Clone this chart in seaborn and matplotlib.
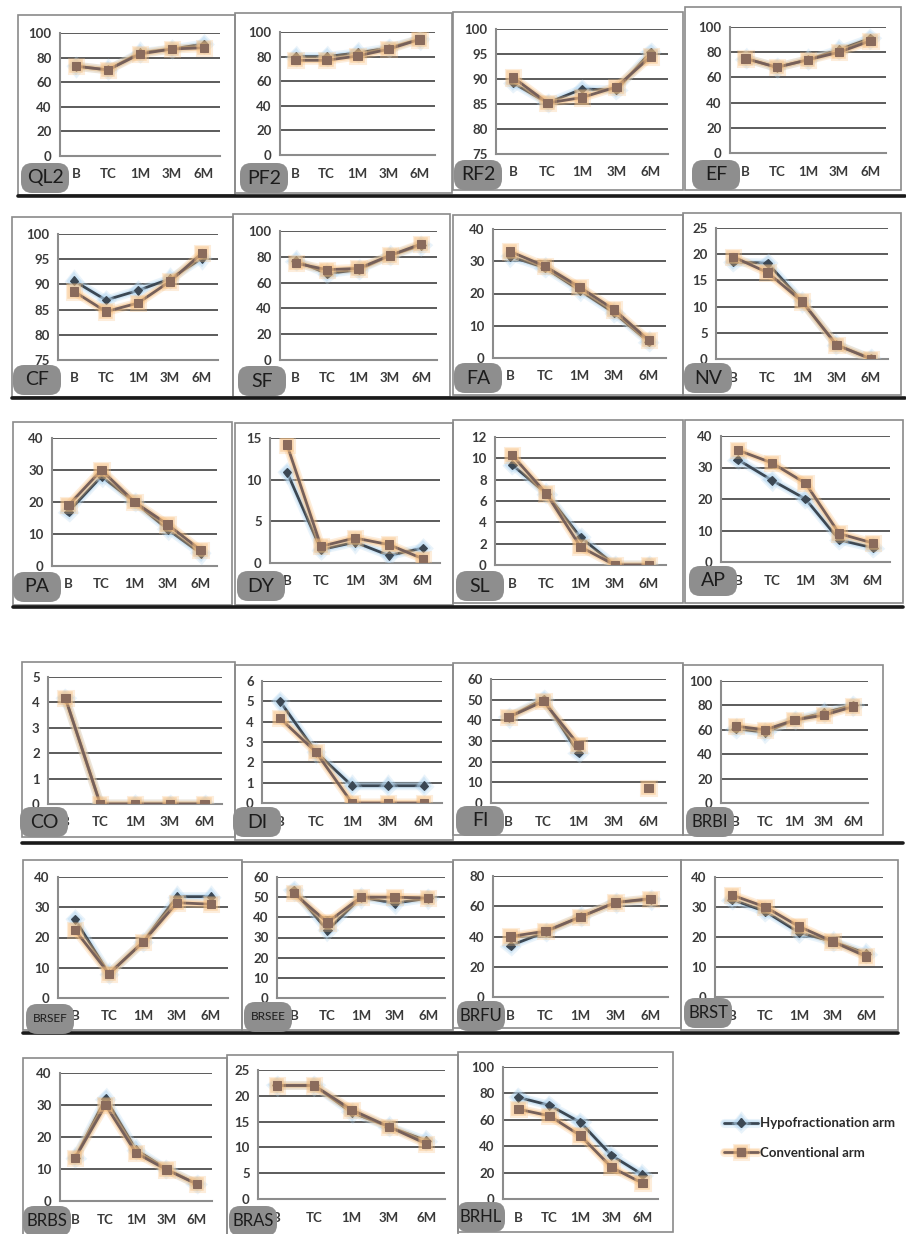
import numpy as np
import pandas as pd
import matplotlib
matplotlib.use("Agg")
import matplotlib.pyplot as plt
import matplotlib.patheffects as pe
from matplotlib.patches import Rectangle, FancyBboxPatch
from matplotlib.lines import Line2D
import seaborn as sns

# ---------------- data ----------------
categories = ["B", "TC", "1M", "3M", "6M"]
arms = ["Hypofractionation arm", "Conventional arm"]

QL2_hypo = [73, 70, 84, 87, 91]
QL2_conv = [73, 70, 83, 87, 88]
QL2_yticks = [0, 20, 40, 60, 80, 100]

PF2_hypo = [80, 80, 83, 87, 94]
PF2_conv = [77, 77, 80.5, 86, 94]
PF2_yticks = [0, 20, 40, 60, 80, 100]

RF2_hypo = [89.2, 85.2, 88.0, 87.8, 95.4]
RF2_conv = [90.3, 85.2, 86.3, 88.4, 94.5]
RF2_yticks = [75, 80, 85, 90, 95, 100]

EF_hypo = [75, 68, 74, 82, 91]
EF_conv = [75, 68, 74, 80, 89]
EF_yticks = [0, 20, 40, 60, 80, 100]

CF_hypo = [90.7, 86.9, 88.8, 91.1, 95.2]
CF_conv = [88.6, 84.6, 86.3, 90.6, 96.2]
CF_yticks = [75, 80, 85, 90, 95, 100]

SF_hypo = [77, 67, 70, 81, 89]
SF_conv = [75, 70, 71, 81, 90]
SF_yticks = [0, 20, 40, 60, 80, 100]

FA_hypo = [31.5, 28, 21, 14, 5]
FA_conv = [33, 28.5, 22, 15, 5.5]
FA_yticks = [0, 10, 20, 30, 40]

NV_hypo = [18.5, 18.3, 11, 2.7, 0.1]
NV_conv = [19.5, 16.5, 11, 2.7, 0]
NV_yticks = [0, 5, 10, 15, 20, 25]

PA_hypo = [17, 28, 20, 11.5, 4]
PA_conv = [19, 30, 20, 13, 5]
PA_yticks = [0, 10, 20, 30, 40]

DY_hypo = [10.9, 1.6, 2.5, 0.9, 1.8]
DY_conv = [14.2, 2.0, 3.0, 2.2, 0.5]
DY_yticks = [0, 5, 10, 15]

SL_hypo = [9.4, 6.7, 2.6, 0, 0]
SL_conv = [10.3, 6.7, 1.7, 0, 0]
SL_yticks = [0, 2, 4, 6, 8, 10, 12]

AP_hypo = [32.5, 26, 20, 7, 4.5]
AP_conv = [35.5, 31.5, 25, 9, 6]
AP_yticks = [0, 10, 20, 30, 40]

CO_hypo = [4.17, 0, 0, 0, 0]
CO_conv = [4.17, 0, 0, 0, 0]
CO_yticks = [0, 1, 2, 3, 4, 5]

DI_hypo = [5.0, 2.5, 0.85, 0.85, 0.85]
DI_conv = [4.17, 2.5, 0, 0, 0]
DI_yticks = [0, 1, 2, 3, 4, 5, 6]

FI_hypo = [41.5, 50.3, 24.2, np.nan, np.nan]
FI_conv = [41.5, 49.2, 28.2, np.nan, 7.3]
FI_yticks = [0, 10, 20, 30, 40, 50, 60]

BRBI_hypo = [61, 58, 68, 74, 80]
BRBI_conv = [63, 60, 68, 72, 79]
BRBI_yticks = [0, 20, 40, 60, 80, 100]

BRSEF_hypo = [26, 8, 18.5, 33.5, 33.5]
BRSEF_conv = [22.5, 8, 18.5, 31.5, 31]
BRSEF_yticks = [0, 10, 20, 30, 40]

BRSEE_hypo = [53.4, 33.5, 50, 47, 49.5]
BRSEE_conv = [52, 37.5, 50, 50, 49.5]
BRSEE_yticks = [0, 10, 20, 30, 40, 50, 60]

BRFU_hypo = [34, 43, 53, 62.5, 64.5]
BRFU_conv = [40, 43.5, 53, 62.5, 65]
BRFU_yticks = [0, 20, 40, 60, 80]

BRST_hypo = [32.5, 28.5, 21.5, 18.5, 14.5]
BRST_conv = [34, 30, 23.5, 18.5, 13.5]
BRST_yticks = [0, 10, 20, 30, 40]

BRBS_hypo = [13.5, 32, 16, 10, 5.3]
BRBS_conv = [13.5, 30, 15, 9.8, 5.3]
BRBS_yticks = [0, 10, 20, 30, 40]

BRAS_hypo = [22, 22, 16.8, 14, 11.3]
BRAS_conv = [22, 22, 17.3, 14, 10.7]
BRAS_yticks = [0, 5, 10, 15, 20, 25]

BRHL_hypo = [77, 71, 58, 33, 18.5]
BRHL_conv = [68, 63, 48, 24, 12]
BRHL_yticks = [0, 20, 40, 60, 80, 100]

panels = [
    ("QL2", QL2_hypo, QL2_conv, QL2_yticks),
    ("PF2", PF2_hypo, PF2_conv, PF2_yticks),
    ("RF2", RF2_hypo, RF2_conv, RF2_yticks),
    ("EF", EF_hypo, EF_conv, EF_yticks),
    ("CF", CF_hypo, CF_conv, CF_yticks),
    ("SF", SF_hypo, SF_conv, SF_yticks),
    ("FA", FA_hypo, FA_conv, FA_yticks),
    ("NV", NV_hypo, NV_conv, NV_yticks),
    ("PA", PA_hypo, PA_conv, PA_yticks),
    ("DY", DY_hypo, DY_conv, DY_yticks),
    ("SL", SL_hypo, SL_conv, SL_yticks),
    ("AP", AP_hypo, AP_conv, AP_yticks),
    ("CO", CO_hypo, CO_conv, CO_yticks),
    ("DI", DI_hypo, DI_conv, DI_yticks),
    ("FI", FI_hypo, FI_conv, FI_yticks),
    ("BRBI", BRBI_hypo, BRBI_conv, BRBI_yticks),
    ("BRSEF", BRSEF_hypo, BRSEF_conv, BRSEF_yticks),
    ("BRSEE", BRSEE_hypo, BRSEE_conv, BRSEE_yticks),
    ("BRFU", BRFU_hypo, BRFU_conv, BRFU_yticks),
    ("BRST", BRST_hypo, BRST_conv, BRST_yticks),
    ("BRBS", BRBS_hypo, BRBS_conv, BRBS_yticks),
    ("BRAS", BRAS_hypo, BRAS_conv, BRAS_yticks),
    ("BRHL", BRHL_hypo, BRHL_conv, BRHL_yticks),
]

# ---------------- layout (pixels) ----------------
W, H = 906, 1234
# plot area: left, right, top, bottom
axes_px = {
    "QL2": (60, 220, 33, 156), "PF2": (280, 435, 32, 155),
    "RF2": (496, 668, 29, 154), "EF": (730, 886, 27, 153),
    "CF": (58, 218, 234, 360), "SF": (280, 437, 231, 360),
    "FA": (493, 666, 229, 358), "NV": (716, 888, 228, 359),
    "PA": (52, 217, 438, 566), "DY": (270, 440, 438, 563),
    "SL": (495, 666, 437, 565), "AP": (721, 890, 436, 562),
    "CO": (48, 222, 677, 804), "DI": (262, 442, 681, 803),
    "FI": (491, 666, 679, 803), "BRBI": (721, 868, 681, 803),
    "BRSEF": (58, 228, 877, 998), "BRSEE": (277, 445, 877, 998),
    "BRFU": (493, 668, 876, 997), "BRST": (715, 883, 877, 997),
    "BRBS": (60, 212, 1073, 1201), "BRAS": (258, 445, 1070, 1199),
    "BRHL": (503, 658, 1067, 1199),
}
# panel frame: x0, x1, y0, y1
box_px = {
    "QL2": (18, 235, 15, 195), "PF2": (235, 452, 13, 193),
    "RF2": (453, 683, 12, 190), "EF": (685, 901, 7, 190),
    "CF": (12, 233, 217, 397), "SF": (233, 450, 214, 397),
    "FA": (453, 683, 215, 395), "NV": (683, 901, 213, 395),
    "PA": (13, 232, 422, 605), "DY": (235, 453, 423, 605),
    "SL": (453, 683, 420, 603), "AP": (685, 903, 420, 603),
    "CO": (22, 235, 662, 837), "DI": (235, 453, 665, 840),
    "FI": (453, 683, 663, 835), "BRBI": (683, 883, 665, 835),
    "BRSEF": (23, 242, 860, 1030), "BRSEE": (242, 453, 862, 1030),
    "BRFU": (453, 681, 860, 1028), "BRST": (681, 898, 860, 1030),
    "BRBS": (23, 227, 1058, 1236), "BRAS": (227, 458, 1055, 1236),
    "BRHL": (458, 673, 1052, 1232),
}
# badge centres
badge_px = {
    "QL2": (45, 178), "PF2": (264, 178), "RF2": (478, 175), "EF": (716, 175),
    "CF": (37, 380), "SF": (262, 381), "FA": (478, 378), "NV": (708, 378),
    "PA": (37, 587), "DY": (261, 586), "SL": (480, 586), "AP": (713, 581),
    "CO": (44, 822), "DI": (257, 822), "FI": (480, 821), "BRBI": (710, 822),
    "BRSEF": (50, 1019), "BRSEE": (268, 1017), "BRFU": (481, 1016),
    "BRST": (708, 1013), "BRBS": (47, 1221), "BRAS": (253, 1221),
    "BRHL": (481, 1217),
}
row_lines = [(18, 905, 196), (12, 905, 398), (13, 903, 607),
             (22, 903, 843), (23, 898, 1033)]

# ---------------- style ----------------
sns.set_style("white")
plt.rcParams["font.family"] = ["Lato", "DejaVu Sans"]

line_col = {arms[0]: "#3b4753", arms[1]: "#76605a"}
face_col = {arms[0]: "#3b4753", arms[1]: "#8a6b5c"}
glow_col = {arms[0]: "#b3d6f0", arms[1]: "#f8c080"}
marker_of = {arms[0]: "D", arms[1]: "s"}
msize = {arms[0]: 4.5, arms[1]: 6.0}
tick_col = "#3a3a3a"


def glow(arm):
    return [pe.Stroke(linewidth=6.5, foreground=glow_col[arm], alpha=0.28),
            pe.Stroke(linewidth=4.0, foreground=glow_col[arm], alpha=0.45),
            pe.Normal()]


fig = plt.figure(figsize=(W / 100, H / 100), dpi=100)
fig.patch.set_facecolor("white")

for name, hypo, conv, yt in panels:
    l, r, t, b = axes_px[name]
    ax = fig.add_axes([l / W, 1 - b / H, (r - l) / W, (b - t) / H])
    df = pd.DataFrame({
        "time": categories * 2,
        "pos": list(range(len(categories))) * 2,
        "score": list(hypo) + list(conv),
        "arm": [arms[0]] * len(categories) + [arms[1]] * len(categories),
    })
    for arm in arms:
        sub = df[df["arm"] == arm].reset_index(drop=True)
        valid = sub["score"].notna()
        seg_id = (valid != valid.shift()).cumsum()
        for _, seg in sub[valid].groupby(seg_id[valid]):
            sns.lineplot(data=seg, x="pos", y="score", ax=ax, legend=False,
                         estimator=None, sort=False, color=line_col[arm],
                         linewidth=2.0, marker=marker_of[arm],
                         markersize=msize[arm], markerfacecolor=face_col[arm],
                         markeredgecolor=face_col[arm], zorder=3)
            ax.lines[-1].set_path_effects(glow(arm))

    ax.set_xlim(-0.5, len(categories) - 0.5)
    ax.set_ylim(yt[0], yt[-1])
    ax.set_yticks(yt)
    ax.set_yticklabels([str(v) for v in yt])
    ax.set_xticks(range(len(categories)))
    ax.set_xticklabels(categories)
    ax.set_xticks(np.arange(-0.5, len(categories), 1.0), minor=True)
    ax.set_xlabel("")
    ax.set_ylabel("")
    ax.grid(axis="y", color="#4e4e4e", linewidth=1.3)
    ax.grid(axis="x", visible=False)
    ax.set_axisbelow(True)
    for s in ["top", "right"]:
        ax.spines[s].set_visible(False)
    for s in ["left", "bottom"]:
        ax.spines[s].set_color("#8c8c8c")
        ax.spines[s].set_linewidth(1.5)
        ax.spines[s].set_zorder(2.6)
    ax.tick_params(axis="x", which="major", length=0, pad=9,
                   labelsize=9.5, labelcolor=tick_col)
    ax.tick_params(axis="x", which="minor", length=4, width=1.2,
                   color="#8c8c8c", direction="out")
    ax.tick_params(axis="y", length=4, width=1.2, color="#8c8c8c",
                   direction="out", pad=2, labelsize=9.5, labelcolor=tick_col)
    for lab in ax.get_xticklabels() + ax.get_yticklabels():
        lab.set_fontweight("bold")
    ax.patch.set_alpha(0)

    # frame around the panel
    x0, x1, y0, y1 = box_px[name]
    fig.add_artist(Rectangle((x0 / W, 1 - y1 / H), (x1 - x0) / W, (y1 - y0) / H,
                             transform=fig.transFigure, fill=False,
                             edgecolor="#8a8a8a", linewidth=1.2, zorder=1))

    # grey badge with the panel name
    cx, cy = badge_px[name]
    bw, bh = 48, 30
    fig.add_artist(FancyBboxPatch(((cx - bw / 2) / 100, (H - cy - bh / 2) / 100),
                                  bw / 100, bh / 100,
                                  boxstyle="round,pad=0,rounding_size=0.11",
                                  transform=fig.dpi_scale_trans,
                                  facecolor="#8e8e8e", edgecolor="none", zorder=5))
    fs = 14 if len(name) <= 3 else (12 if len(name) == 4 else 8.5)
    fig.text(cx / W, 1 - cy / H, name, ha="center", va="center",
             fontsize=fs, color="#1c1c1c", zorder=6)

# thick separators under the rows
for x0, x1, y in row_lines:
    fig.add_artist(Line2D([x0 / W, x1 / W], [1 - y / H, 1 - y / H],
                          transform=fig.transFigure, color="#1a1a1a",
                          linewidth=2.6, zorder=4))

# legend
handles = []
for arm in arms:
    h = Line2D([], [], color=line_col[arm], linewidth=2.0, marker=marker_of[arm],
               markersize=msize[arm], markerfacecolor=face_col[arm],
               markeredgecolor=face_col[arm])
    h.set_path_effects(glow(arm))
    handles.append(h)
fig.legend(handles, arms, loc="center left",
           bbox_to_anchor=(712 / W, 1 - 1138 / H), frameon=False,
           prop={"family": ["Lato", "DejaVu Sans"], "weight": "bold", "size": 9.5},
           handlelength=2.6, handletextpad=0.15, labelspacing=1.3,
           labelcolor="#2a2a2a")

fig.savefig("out.png", dpi=100, facecolor="white")
